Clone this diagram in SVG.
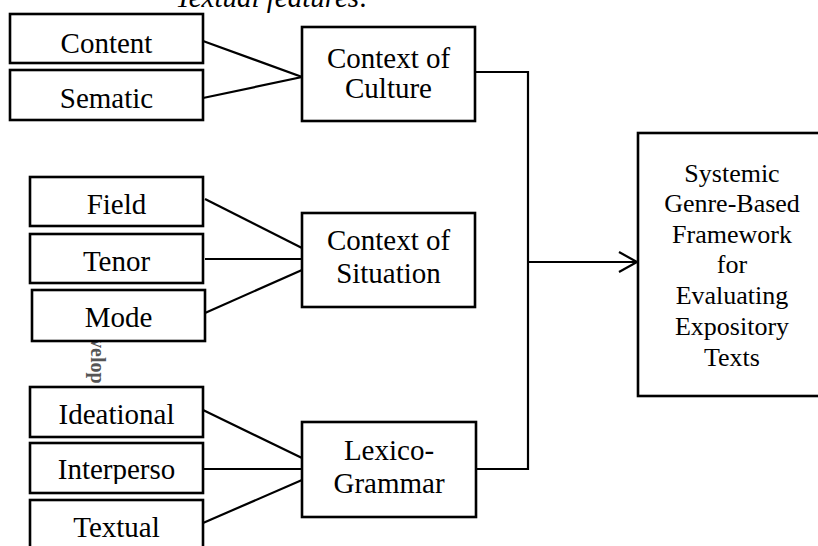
<svg xmlns="http://www.w3.org/2000/svg" width="818" height="546" viewBox="0 0 818 546">
<style>
.box{fill:#fff;stroke:#000;stroke-width:2.6}
.t{font-family:"Liberation Serif","Times New Roman",serif;font-size:29px;fill:#000;text-anchor:middle}
.tr{font-family:"Liberation Serif","Times New Roman",serif;font-size:26px;fill:#000;text-anchor:middle}
.ln{fill:none;stroke:#000;stroke-width:2.2}
</style>
<defs>
<clipPath id="clipInter"><rect x="30" y="443" width="173" height="41"/></clipPath>
</defs>
<text x="272" y="7" font-family="'Liberation Serif','Times New Roman',serif" font-size="29" font-style="italic" text-anchor="middle">Textual features:</text>
<text transform="translate(91,338) rotate(90)" font-family="'Liberation Serif','Times New Roman',serif" font-size="20" font-weight="bold" fill="#555">velop</text>
<g id="connectors">
<polyline class="ln" points="203,41 302,77 203,98"/>
<polyline class="ln" points="205,199 302,248"/>
<polyline class="ln" points="205,259 302,259"/>
<polyline class="ln" points="205,313 302,270"/>
<polyline class="ln" points="203,410 302,458"/>
<polyline class="ln" points="203,469 302,469"/>
<polyline class="ln" points="203,523 302,480"/>
<polyline class="ln" points="475,72 528,72 528,469 476,469"/>
<line class="ln" x1="528" y1="262" x2="637" y2="262"/>
<polyline class="ln" points="619,252 637,262 619,272"/>
</g>
<g id="content"><rect class="box" x="10" y="14" width="193" height="49"/><text class="t" x="106.5" y="52.5">Content</text></g>
<g id="sematic"><rect class="box" x="10" y="70" width="193" height="50"/><text class="t" x="106.5" y="108">Sematic</text></g>
<g id="field"><rect class="box" x="30" y="177" width="173" height="49"/><text class="t" x="116.5" y="214">Field</text></g>
<g id="tenor"><rect class="box" x="30" y="234" width="173" height="49"/><text class="t" x="116.5" y="271">Tenor</text></g>
<g id="mode"><rect class="box" x="32" y="290" width="173" height="51"/><text class="t" x="118.5" y="327">Mode</text></g>
<g id="ideational"><rect class="box" x="30" y="387" width="173" height="50"/><text class="t" x="116.5" y="424">Ideational</text></g>
<g id="interperso"><rect class="box" x="30" y="443" width="173" height="50"/><text class="t" x="116.5" y="479" clip-path="url(#clipInter)">Interperso</text></g>
<g id="textual"><rect class="box" x="30" y="500" width="173" height="60"/><text class="t" x="116.5" y="537">Textual</text></g>
<g id="culture"><rect class="box" x="302" y="27" width="173" height="94"/><text class="t" x="388.5" y="68">Context of</text><text class="t" x="388.5" y="98">Culture</text></g>
<g id="situation"><rect class="box" x="302" y="213" width="173" height="94"/><text class="t" x="388.5" y="250">Context of</text><text class="t" x="388.5" y="283">Situation</text></g>
<g id="lexico"><rect class="box" x="302" y="422" width="174" height="95"/><text class="t" x="389" y="460">Lexico-</text><text class="t" x="389" y="493">Grammar</text></g>
<g id="framework"><rect class="box" x="638" y="133" width="190" height="263"/>
<text class="tr" x="732" y="182">Systemic</text>
<text class="tr" x="732" y="212">Genre-Based</text>
<text class="tr" x="732" y="243">Framework</text>
<text class="tr" x="732" y="273">for</text>
<text class="tr" x="732" y="304">Evaluating</text>
<text class="tr" x="732" y="335">Expository</text>
<text class="tr" x="732" y="366">Texts</text>
</g>
</svg>
